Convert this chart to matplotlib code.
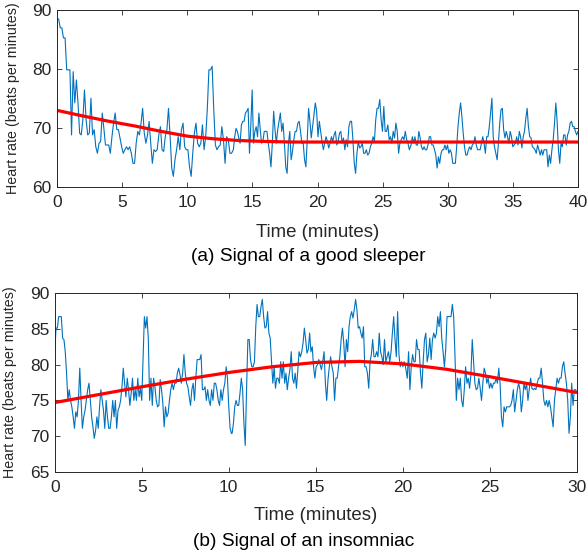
import numpy as np
import matplotlib
matplotlib.use("Agg")
import matplotlib.pyplot as plt

plt.rcParams['font.family'] = ['Liberation Sans', 'DejaVu Sans']

# ---------------- (a) Signal of a good sleeper ----------------
a_seg1 = [88.4, 88.4, 86.9, 86.9, 85.2, 85.2, 79.8, 79.8, 79.8, 68.8, 79.5, 74.2, 78.1, 74.2,
          69.1, 68.8, 71.4, 76.4, 71.4, 68.8, 69.1, 75.0, 68.8, 69.7, 66.8, 65.7, 67.4, 67.7,
          72.5, 69.9, 67.1, 67.1, 67.1, 65.7, 68.5, 70.8, 72.5, 69.7, 69.7, 68.2, 66.8, 65.7,
          66.3, 66.8, 66.3, 66.8, 65.7, 64.0, 64.0, 67.4, 69.4, 68.8, 70.8, 73.3, 69.1, 67.4,
          68.8, 71.1, 67.4, 64.0, 66.3, 66.0, 66.3, 68.8, 70.2, 66.3, 66.0, 68.5, 69.7, 73.3,
          68.5, 63.2, 61.8, 64.6, 66.3, 68.5, 66.3, 69.7, 70.8, 66.8, 66.3, 66.3, 63.4, 61.8,
          65.7, 69.1, 70.8, 67.4, 66.8, 67.4, 70.5, 66.3, 68.5, 73.1, 79.8, 79.8, 80.4, 73.1,
          67.1, 66.3, 66.8, 67.1, 70.2, 68.0, 64.0, 68.5, 68.0, 65.7, 65.7]
a_seg2 = [66.3, 68.5, 69.9, 69.4, 68.3, 67.4, 70.5, 71.1, 71.1, 72.5, 72.8, 73.3, 65.7, 70.5,
          76.4, 67.4, 69.4, 70.2, 68.5, 72.5, 69.7, 67.4, 67.7, 69.4, 69.4, 69.4, 67.4, 65.7,
          63.4, 67.4, 72.8, 69.7, 67.4, 69.7, 71.1, 72.5, 69.4, 70.8, 67.4, 63.4, 62.3, 67.4,
          69.4, 64.6, 66.0, 68.0, 69.4, 69.4, 70.8, 71.1, 69.4, 67.4, 67.4, 64.6, 63.4, 68.0,
          73.3, 71.1, 68.3, 70.2, 72.2, 74.2, 72.8, 68.5, 71.1, 69.4, 67.7, 66.3, 67.4, 68.5,
          67.7, 66.6, 67.4, 68.5, 67.7, 68.8, 69.4, 67.1, 67.7, 69.1, 69.4, 67.4, 68.3, 66.3,
          68.0, 66.8, 70.2, 71.1, 71.1, 68.0, 64.0, 62.3, 65.7, 67.7, 66.6, 66.8, 67.4, 65.7,
          65.7, 66.3, 65.4, 65.7, 66.8, 67.4, 68.5, 67.7, 71.4, 73.3, 73.3, 74.8, 71.4, 69.4,
          73.6, 69.4, 69.4, 70.5, 68.0, 68.5, 67.4, 69.4, 68.3, 70.8, 69.4, 65.7, 67.4, 68.0,
          68.5, 68.0, 69.4, 68.0, 67.4, 66.3]
a_seg3 = [67.1, 68.5, 67.4, 68.5, 67.1, 67.1, 69.4, 68.3, 66.8, 66.3, 66.8, 66.3, 66.3, 67.1,
          68.5, 68.5, 67.1, 67.1, 66.3, 65.4, 63.2, 65.1, 64.0, 65.7, 66.3, 66.3, 67.1, 66.3,
          67.1, 65.7, 66.3, 65.7, 64.0, 64.0, 64.0, 66.8, 70.2, 72.5, 74.2, 71.9, 69.1, 66.8,
          65.4, 65.4, 66.3, 66.8, 66.3, 67.1, 67.4, 68.5, 67.1, 66.3, 66.3, 66.3, 67.4, 68.5,
          67.4, 65.7, 68.5, 68.5, 70.2, 72.5, 75.0, 68.5, 66.8, 65.7, 64.6, 67.4, 70.8, 73.1,
          73.3, 69.7, 68.3, 69.4, 68.5, 67.4, 69.4, 68.5, 66.8, 67.1, 67.4, 68.5, 67.1, 69.4,
          68.5, 66.6, 68.5, 69.4, 71.6, 73.3, 70.2, 68.5, 68.3, 66.8, 66.6, 66.3, 65.7, 67.1,
          66.3, 65.4, 66.3, 65.4, 66.3, 66.3, 66.3, 63.4, 65.4, 64.0, 66.3, 68.0, 70.8, 74.2,
          71.1, 66.3, 64.0, 67.4, 66.8, 68.8, 68.8, 67.1, 68.8, 69.4, 70.8, 71.1, 70.2, 70.2,
          69.4, 68.8, 69.4]
a_seg_start = [0.0, 13.54, 27.18]
a_seg_end = [13.40, 27.05, 40.0]
a_trend_t = [0, 2, 4, 6, 8, 10, 12, 14, 16, 18, 20, 22, 24, 26, 28, 30, 32, 34, 36, 38, 40]
a_trend_v = [72.95, 72.0, 71.1, 70.3, 69.4, 68.6, 68.15, 67.85, 67.7, 67.6, 67.6, 67.6,
             67.6, 67.6, 67.6, 67.6, 67.6, 67.6, 67.6, 67.6, 67.6]
a_xticks = [0, 5, 10, 15, 20, 25, 30, 35, 40]
a_yticks = [60, 70, 80, 90]

# ---------------- (b) Signal of an insomniac ----------------
b_seg1 = [81.4, 85.1, 85.1, 86.7, 86.7, 86.7, 83.7, 83.5, 81.8, 78.8, 75.0, 76.5, 75.0, 74.1,
          72.7, 71.1, 73.4, 72.7, 75.0, 79.5, 75.0, 71.1, 72.7, 73.6, 75.0, 76.5, 77.4, 75.0,
          72.7, 71.3, 69.7, 70.8, 72.7, 71.1, 74.1, 76.5, 75.0, 73.6, 71.1, 75.0, 72.7, 71.1,
          71.1, 72.7, 75.0, 72.7, 75.0, 71.1, 73.6, 74.1, 75.0, 76.9, 79.5, 77.4, 75.5, 78.1,
          76.5, 74.3, 76.0, 78.1, 75.0, 76.5, 75.0, 78.1, 75.5, 76.7, 75.0, 81.1, 86.7, 85.1,
          86.7, 83.5, 75.0, 78.1, 74.3, 78.1, 76.9, 75.0, 74.1, 74.3, 77.9, 76.5, 74.6, 71.3,
          74.1, 72.7, 73.2, 75.0, 76.5, 77.4, 76.5, 77.4, 77.4, 78.8, 79.5, 78.6, 77.4, 78.8,
          81.4, 78.8, 77.4, 76.9, 75.5, 74.3, 76.5, 77.4, 75.0, 78.1, 80.7, 80.7, 80.7, 81.4,
          76.5, 76.5, 76.9, 75.0, 76.5, 75.0, 74.3, 76.5, 75.0, 77.4, 77.4, 76.5, 75.0, 74.3,
          76.5, 75.0, 76.5, 77.4, 79.7, 78.1, 74.1, 71.1, 70.4]
b_seg2 = [70.4, 71.8, 74.1, 75.0, 74.3, 74.3, 76.0, 78.1, 76.5, 71.8, 68.7, 76.5, 83.5, 83.5,
          80.7, 79.7, 79.7, 80.4, 85.3, 88.4, 86.7, 86.7, 88.1, 89.1, 86.7, 85.1, 85.3, 87.4,
          84.4, 83.7, 80.4, 77.4, 79.7, 76.7, 78.1, 78.1, 77.4, 80.4, 78.1, 80.4, 77.4, 78.8,
          76.5, 78.1, 79.3, 81.8, 78.1, 77.4, 78.8, 76.7, 79.3, 81.8, 81.1, 81.8, 83.0, 85.1,
          83.5, 81.6, 82.1, 84.4, 81.8, 82.5, 79.7, 78.1, 79.7, 80.0, 80.7, 80.0, 79.3, 80.4,
          81.8, 77.4, 75.0, 77.9, 79.7, 81.1, 79.7, 78.8, 75.0, 78.1, 78.1, 79.7, 81.1, 83.5,
          85.1, 83.0, 79.7, 83.5, 81.8, 85.3, 86.7, 87.4, 86.5, 87.7, 89.1, 87.7, 85.1, 85.3,
          84.4, 83.7, 85.3, 79.7, 79.7, 78.8, 76.7, 80.4, 81.4, 83.5, 81.1, 81.1, 81.8, 81.1,
          84.4, 81.8, 81.1, 80.0, 83.5, 80.4, 81.1, 81.8, 80.4, 81.8, 84.4, 86.7, 83.5, 81.1,
          87.4, 81.4, 79.7, 80.4, 79.7, 80.4, 79.7]
b_seg3 = [78.1, 81.8, 76.5, 79.7, 81.4, 80.4, 80.4, 83.5, 82.1, 82.1, 78.8, 76.7, 80.4, 83.5,
          84.4, 80.4, 81.4, 83.7, 80.7, 83.5, 84.4, 83.7, 84.4, 86.7, 85.3, 87.4, 83.7, 81.8,
          79.7, 82.1, 86.7, 86.7, 86.7, 86.7, 88.4, 86.7, 81.1, 75.0, 78.1, 76.5, 78.1, 75.0,
          74.1, 76.5, 79.7, 77.4, 78.1, 76.7, 78.6, 83.5, 80.4, 77.4, 76.5, 76.7, 78.1, 76.7,
          75.0, 77.4, 79.5, 78.8, 77.4, 78.1, 76.7, 77.4, 76.7, 77.4, 77.4, 78.1, 77.4, 79.5,
          77.4, 72.7, 71.3, 74.1, 73.4, 74.1, 74.1, 74.1, 74.3, 75.0, 76.5, 73.4, 75.0, 76.5,
          77.4, 76.5, 73.4, 75.0, 77.4, 76.5, 77.4, 75.0, 76.5, 78.1, 76.7, 76.5, 76.7, 76.5,
          77.4, 78.1, 78.1, 79.5, 77.4, 75.0, 74.3, 75.0, 74.1, 75.0, 74.1, 72.7, 71.3, 75.0,
          76.5, 78.1, 77.4, 78.1, 78.1, 79.7, 80.4, 78.8, 77.4, 75.0, 70.4, 72.7, 77.4, 74.3,
          76.5, 76.5, 76.0]
b_seg_start = [0.0, 10.19, 20.25]
b_seg_end = [10.15, 20.15, 30.0]
b_trend_t = [0, 2.5, 5, 7.5, 10, 12.5, 15, 17.5, 20, 22.5, 25, 27.5, 30]
b_trend_v = [74.7, 75.8, 76.9, 77.95, 78.9, 79.7, 80.3, 80.45, 80.1, 79.35, 78.3, 77.2, 76.1]
b_xticks = [0, 5, 10, 15, 20, 25, 30]
b_yticks = [65, 70, 75, 80, 85, 90]

BLUE = '#0072BD'
RED = '#FF0000'
DARK = '#262626'


def build_time(segs, starts, ends):
    return np.concatenate([np.linspace(s, e, len(v)) for v, s, e in zip(segs, starts, ends)])


a_t = build_time([a_seg1, a_seg2, a_seg3], a_seg_start, a_seg_end)
a_v = np.concatenate([a_seg1, a_seg2, a_seg3])
b_t = build_time([b_seg1, b_seg2, b_seg3], b_seg_start, b_seg_end)
b_v = np.concatenate([b_seg1, b_seg2, b_seg3])

fig = plt.figure(figsize=(5.88, 5.55), dpi=100)
W, H = 588.0, 555.0
ax1 = fig.add_axes([57 / W, 1 - 187 / H, 521 / W, 177.5 / H])
ax2 = fig.add_axes([54.7 / W, 1 - 472 / H, 522.3 / W, 179 / H])


def style(ax, xticks, yticks, xlim, ylim, ylab_x, xpad):
    ax.set_xlim(*xlim)
    ax.set_ylim(*ylim)
    ax.set_xticks(xticks)
    ax.set_yticks(yticks)
    ax.tick_params(direction='in', length=3.6, width=0.6, top=True, right=True,
                   labelsize=12.5, colors=DARK)
    ax.tick_params(axis='x', pad=6)
    ax.tick_params(axis='y', pad=4)
    for sp in ax.spines.values():
        sp.set_linewidth(0.7)
        sp.set_color(DARK)
    ax.set_xlabel('Time (minutes)', fontsize=13.4, color=DARK, labelpad=xpad)
    ax.set_ylabel('Heart rate (beats per minutes)', fontsize=10.3, color=DARK)
    ax.yaxis.set_label_coords(ylab_x, 0.5)


ax1.plot(a_t, a_v, color=BLUE, lw=0.8)
ax1.plot(a_trend_t, a_trend_v, color=RED, lw=2.3, solid_capstyle='butt')
style(ax1, a_xticks, a_yticks, (0, 40), (60, 90), -0.071, 9.5)

ax2.plot(b_t, b_v, color=BLUE, lw=0.8)
ax2.plot(b_trend_t, b_trend_v, color=RED, lw=2.3, solid_capstyle='butt')
style(ax2, b_xticks, b_yticks, (0, 30), (65, 90), -0.072, 8.5)

fig.text(308 / W, 1 - 257 / H, '(a) Signal of a good sleeper', ha='center', va='center',
         fontsize=13.8, color='black')
fig.text(304 / W, 1 - 541 / H, '(b) Signal of an insomniac', ha='center', va='center',
         fontsize=13.8, color='black')

fig.savefig('out.png', dpi=100)
